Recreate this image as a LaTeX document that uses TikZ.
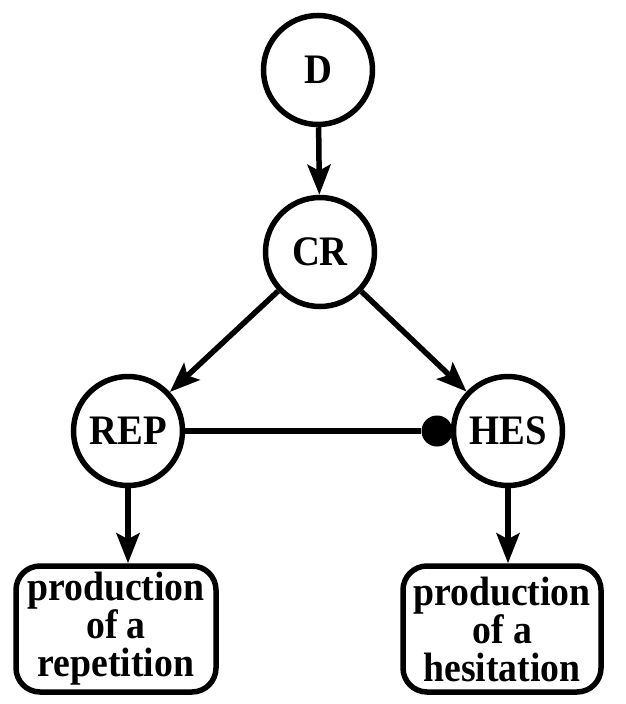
\documentclass[tikz,border=0pt]{standalone}
\usepackage{fontspec}
\setmainfont{Liberation Serif}[BoldFeatures={FakeStretch=0.92}]
\usetikzlibrary{arrows.meta}
\begin{document}
\begin{tikzpicture}[x=1pt, y=-1pt,
  state/.style={circle, draw, line width=5.5pt, minimum size=109pt, inner sep=0pt,
    font=\fontsize{42}{44}\selectfont\bfseries},
  outcome/.style={draw, rounded corners=24pt, line width=5.5pt, minimum height=126pt,
    align=center, inner sep=0pt, font=\fontsize{41}{38}\selectfont\bfseries},
  link/.style={line width=5.5pt},
  arr/.style={link, -{Stealth[length=30pt, width=23pt, inset=6pt]}},
  blob/.style={circle, fill, inner sep=0pt, minimum size=31pt}]
\useasboundingbox (0,0) rectangle (625,704);

% states
\node[state] (D)   at (318,70)  {D};
\node[state] (CR)  at (320,252) {CR};
\node[state] (REP) at (128,431) {REP};
\node[state] (HES) at (508,431) {HES};

% outcomes
\node[outcome, minimum width=200pt] (L) at (116,629)
  {production\\of a\\repetition};
\node[outcome, minimum width=198pt] (R) at (502,629)
  {production\\of a\\hesitation};

% inhibitory link from REP onto HES
\node[blob] (dot) at (437,431) {};
\draw[link] (REP) -- (dot);

% arrows
\draw[arr] (D) -- (CR);
\draw[arr] (CR) -- (REP);
\draw[arr] (CR) -- (HES);
\draw[arr] (REP) -- (REP |- L.north);
\draw[arr] (HES) -- (HES |- R.north);
\end{tikzpicture}
\end{document}
